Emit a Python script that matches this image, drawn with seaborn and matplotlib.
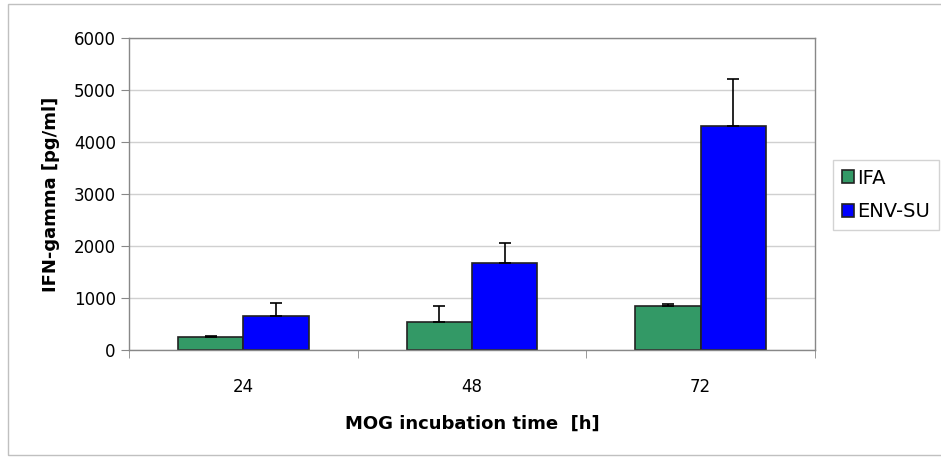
import pandas as pd
import matplotlib.pyplot as plt
import seaborn as sns
from matplotlib.patches import Rectangle

# values
times = ["24", "48", "72"]
ifa_mean = [250, 540, 850]
ifa_err = [20, 310, 40]
env_mean = [650, 1670, 4310]
env_err = [250, 390, 900]

data = pd.DataFrame({
    "time": times * 2,
    "value": ifa_mean + env_mean,
    "group": ["IFA"] * 3 + ["ENV-SU"] * 3,
})
errs = {"IFA": ifa_err, "ENV-SU": env_err}

sns.set_style("white")
plt.rcParams["font.family"] = ["DejaVu Sans"]
plt.rcParams["text.color"] = "black"
plt.rcParams["axes.labelcolor"] = "black"

fig = plt.figure(figsize=(9.41, 4.57), dpi=100)
ax = fig.add_axes([129 / 941, 1 - 350 / 457, (815 - 129) / 941, (350 - 38) / 457])

sns.barplot(data=data, x="time", y="value", hue="group", hue_order=["IFA", "ENV-SU"],
            palette={"IFA": "#339966", "ENV-SU": "#0000ff"}, width=0.57,
            edgecolor="#222222", linewidth=1.2, saturation=1, ax=ax, legend=True)

# upward-only error bars
for cont, name in zip(ax.containers, ["IFA", "ENV-SU"]):
    for bar, e in zip(cont, errs[name]):
        xc = bar.get_x() + bar.get_width() / 2
        h = bar.get_height()
        ax.errorbar(xc, h, yerr=[[0], [e]], fmt="none", ecolor="black",
                    elinewidth=1.2, capsize=4.3, capthick=1.2, zorder=3)

ax.set_ylim(0, 6000)
ax.set_xlim(-0.5, 2.5)
ax.set_yticks(range(0, 6001, 1000))
ax.yaxis.grid(True, color="#d0d0d0", linewidth=1)
ax.set_axisbelow(True)
for s in ax.spines.values():
    s.set_color("#888888")
    s.set_linewidth(1)

ax.set_xticks([-0.5, 0.5, 1.5, 2.5], minor=True)
ax.tick_params(axis="x", which="major", length=0, labelsize=12, pad=20, labelcolor="black")
ax.tick_params(axis="x", which="minor", length=6, color="#888888", direction="out", bottom=True)
ax.tick_params(axis="y", length=6, color="#888888", direction="out", labelsize=12, left=True,
               labelcolor="black")

ax.set_xlabel("MOG incubation time  [h]", fontsize=13, fontweight="bold", labelpad=14)
ax.set_ylabel("IFN-gamma [pg/ml]", fontsize=13, fontweight="bold", labelpad=10)

handles, labels = ax.get_legend_handles_labels()
ax.legend_.remove()
fig.legend(handles, labels, loc="upper left", bbox_to_anchor=(833 / 941, 1 - 160 / 457),
           borderaxespad=0, frameon=True, fancybox=False, edgecolor="#c8c8c8", fontsize=14,
           handlelength=0.65, handleheight=0.65, handletextpad=0.15, labelspacing=0.75,
           borderpad=0.45)

# thin outer frame around the chart
fig.patches.append(Rectangle((8 / 941, 2 / 457), 1.2, 1 - 6 / 457, transform=fig.transFigure,
                             fill=False, edgecolor="#c0c0c0", linewidth=1))

fig.savefig("out.png", dpi=100)
